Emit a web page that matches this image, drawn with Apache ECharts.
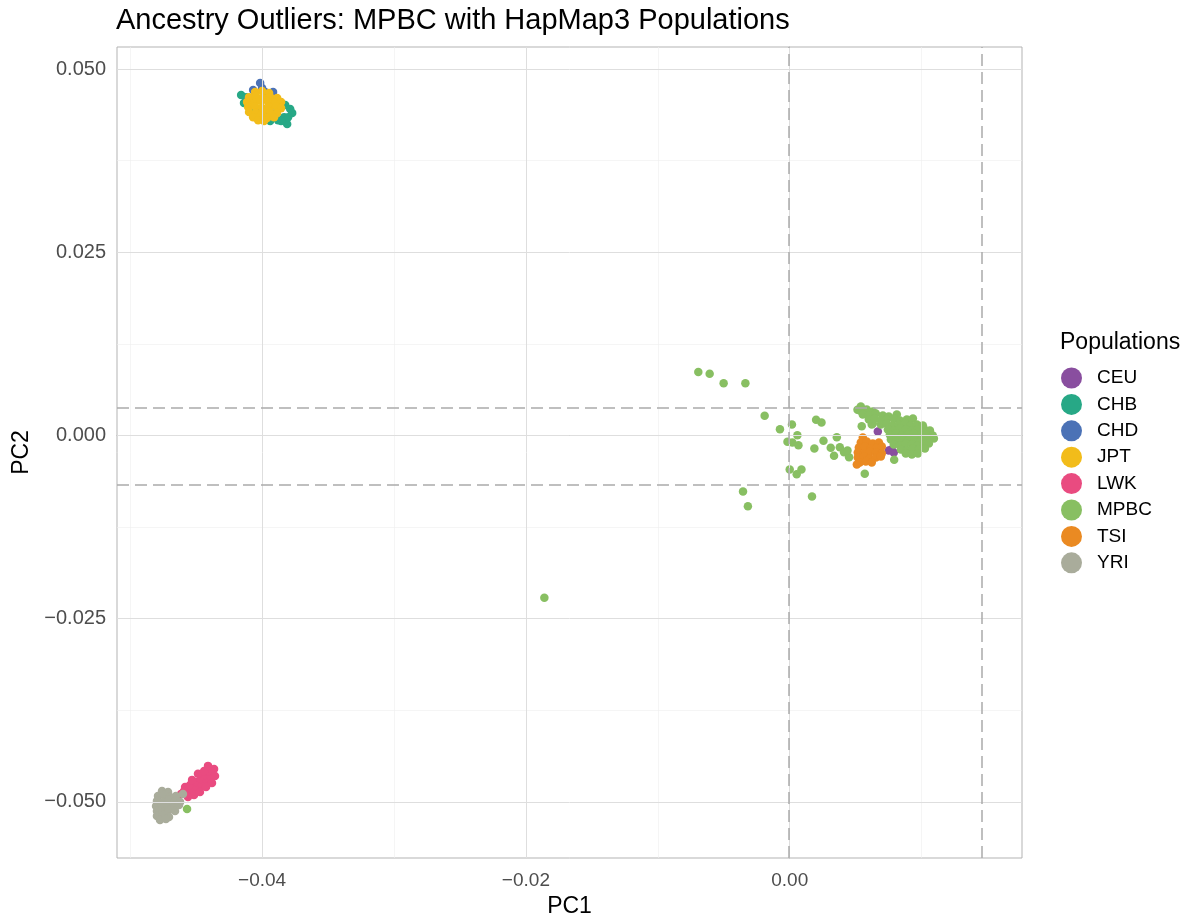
<!DOCTYPE html>
<html>
<head>
<meta charset="utf-8">
<script src="https://cdn.jsdelivr.net/npm/echarts@6/dist/echarts.min.js"></script>
<style>
  html, body { margin: 0; padding: 0; background: #ffffff; }
  #chart { width: 1192px; height: 917px; }
</style>
</head>
<body>
<div id="chart"></div>
<script>
// Population labels and their colours (drawing order = legend order)
const populations = ['CEU', 'CHB', 'CHD', 'JPT', 'LWK', 'MPBC', 'TSI', 'YRI'];
const popColors = ['#894E9F', '#27A886', '#4B72B6', '#F2BC1A', '#E94B80', '#88BF62', '#EA8A22', '#A9AC9B'];

// PC1 / PC2 coordinates per population
const ceu = [
  [0.00668, 0.00055], [0.00751, -0.00205], [0.00789, -0.00232], [0.00805, -0.00068],
  [0.00843, 0.00000], [0.00880, -0.00096], [0.00918, -0.00041], [0.00843, -0.00150],
  [0.00767, -0.00014], [0.00956, 0.00041], [0.00903, 0.00096], [0.00820, 0.00096],
  [0.00865, -0.00191], [0.00934, -0.00137], [0.00994, -0.00068], [0.00772, -0.00190]
];
const chb = [
  [-0.04159, 0.04645], [-0.04121, 0.04617], [-0.03787, 0.04454], [-0.03772, 0.04399],
  [-0.03810, 0.04249], [-0.03833, 0.04344], [-0.03879, 0.04303], [-0.03939, 0.04290],
  [-0.04015, 0.04331], [-0.04091, 0.04413], [-0.04053, 0.04577], [-0.03939, 0.04645],
  [-0.03863, 0.04549], [-0.03825, 0.04508], [-0.04137, 0.04536], [-0.03977, 0.04440],
  [-0.03901, 0.04385], [-0.03803, 0.04344], [-0.03856, 0.04290]
];
const chd = [
  [-0.04015, 0.04809], [-0.04068, 0.04713], [-0.03917, 0.04686], [-0.03886, 0.04481],
  [-0.03977, 0.04686], [-0.04106, 0.04577], [-0.04030, 0.04440], [-0.03939, 0.04413],
  [-0.04000, 0.04740]
];
const jpt = [
  [-0.04053, 0.04686], [-0.04000, 0.04699], [-0.03947, 0.04672],
  [-0.04099, 0.04617], [-0.04046, 0.04631], [-0.03992, 0.04604], [-0.03939, 0.04617], [-0.03886, 0.04604],
  [-0.04114, 0.04549], [-0.04061, 0.04536], [-0.04008, 0.04563], [-0.03954, 0.04549], [-0.03901, 0.04536], [-0.03856, 0.04549],
  [-0.04106, 0.04481], [-0.04053, 0.04494], [-0.04000, 0.04467], [-0.03947, 0.04481], [-0.03894, 0.04494], [-0.03856, 0.04467],
  [-0.04099, 0.04413], [-0.04046, 0.04399], [-0.03992, 0.04426], [-0.03939, 0.04413], [-0.03886, 0.04399],
  [-0.04068, 0.04344], [-0.04015, 0.04358], [-0.03962, 0.04331], [-0.03909, 0.04344],
  [-0.04030, 0.04303], [-0.03985, 0.04290]
];
const lwk = [
  [-0.04615, -0.04891], [-0.04569, -0.04863], [-0.04584, -0.04795], [-0.04531, -0.04836],
  [-0.04546, -0.04768], [-0.04493, -0.04809], [-0.04501, -0.04727], [-0.04455, -0.04768],
  [-0.04463, -0.04686], [-0.04417, -0.04713], [-0.04433, -0.04631], [-0.04387, -0.04658],
  [-0.04402, -0.04577], [-0.04364, -0.04549], [-0.04357, -0.04645], [-0.04380, -0.04740],
  [-0.04516, -0.04904], [-0.04471, -0.04863], [-0.04562, -0.04932], [-0.04425, -0.04795],
  [-0.04486, -0.04617], [-0.04440, -0.04577], [-0.04592, -0.04850], [-0.04531, -0.04699],
  [-0.04410, -0.04508]
];
const mpbc = [
  // outlying samples
  [-0.00693, 0.00865], [-0.00607, 0.00843], [-0.00501, 0.00714], [-0.00336, 0.00714],
  [-0.00190, 0.00269], [-0.00074, 0.00086], [0.00017, 0.00150], [0.00058, 0.00004],
  [-0.00017, -0.00086], [0.00020, -0.00096], [0.00066, -0.00133], [0.00000, -0.00464],
  [0.00053, -0.00529], [0.00089, -0.00464], [-0.00354, -0.00765], [-0.00317, -0.00966],
  [0.00169, -0.00833], [0.00200, 0.00214], [0.00241, 0.00178], [0.00256, -0.00072],
  [0.00357, -0.00023], [0.00187, -0.00178], [0.00311, -0.00168], [0.00380, -0.00160],
  [0.00336, -0.00277], [0.00412, -0.00228], [0.00450, -0.00296], [0.00438, -0.00205],
  [0.00569, -0.00523], [0.00792, -0.00332], [0.00812, 0.00287], [0.00546, 0.00127],
  [0.00622, 0.00150], [0.00514, 0.00351], [0.00539, 0.00396], [-0.01860, -0.02213],
  [-0.04569, -0.05096], [0.00630, 0.00164],
  // main cluster
  [0.00531, 0.00342], [0.00584, 0.00355], [0.00630, 0.00328],
  [0.00554, 0.00287], [0.00600, 0.00273], [0.00653, 0.00301], [0.00706, 0.00273], [0.00751, 0.00260],
  [0.00600, 0.00219], [0.00645, 0.00232], [0.00691, 0.00205], [0.00736, 0.00219],
  [0.00789, 0.00232], [0.00835, 0.00205], [0.00888, 0.00219], [0.00934, 0.00232],
  [0.00691, 0.00150], [0.00736, 0.00164], [0.00782, 0.00137], [0.00827, 0.00150],
  [0.00873, 0.00164], [0.00918, 0.00137], [0.00964, 0.00150], [0.01009, 0.00137],
  [0.00744, 0.00082], [0.00789, 0.00068], [0.00835, 0.00096], [0.00880, 0.00082],
  [0.00926, 0.00068], [0.00972, 0.00082], [0.01017, 0.00096], [0.01063, 0.00068],
  [0.00759, 0.00014], [0.00805, 0.00027], [0.00850, 0.00000], [0.00896, 0.00014],
  [0.00941, 0.00027], [0.00987, 0.00000], [0.01032, 0.00014], [0.01085, 0.00000],
  [0.00767, -0.00055], [0.00812, -0.00041], [0.00858, -0.00068], [0.00903, -0.00055],
  [0.00949, -0.00041], [0.00994, -0.00068], [0.01040, -0.00055], [0.01093, -0.00041],
  [0.00789, -0.00123], [0.00835, -0.00137], [0.00880, -0.00110], [0.00926, -0.00123],
  [0.00972, -0.00137], [0.01017, -0.00123], [0.01055, -0.00110],
  [0.00843, -0.00191], [0.00888, -0.00205], [0.00934, -0.00178], [0.00979, -0.00191], [0.01025, -0.00178],
  [0.00880, -0.00246], [0.00926, -0.00259], [0.00972, -0.00246]
];
const tsi = [
  [0.00554, -0.00027],
  [0.00539, -0.00096], [0.00584, -0.00082], [0.00630, -0.00110], [0.00676, -0.00096],
  [0.00524, -0.00164], [0.00569, -0.00150], [0.00615, -0.00178], [0.00660, -0.00164], [0.00698, -0.00150],
  [0.00516, -0.00232], [0.00562, -0.00246], [0.00607, -0.00219], [0.00653, -0.00232], [0.00698, -0.00246],
  [0.00516, -0.00301], [0.00562, -0.00287], [0.00607, -0.00314], [0.00653, -0.00301], [0.00691, -0.00287],
  [0.00531, -0.00369], [0.00577, -0.00355], [0.00622, -0.00369],
  [0.00509, -0.00396]
];
const yri = [
  [-0.04759, -0.04850], [-0.04713, -0.04863],
  [-0.04789, -0.04918], [-0.04744, -0.04904], [-0.04698, -0.04932], [-0.04653, -0.04918],
  [-0.04797, -0.04986], [-0.04751, -0.05000], [-0.04706, -0.04973], [-0.04660, -0.04986], [-0.04622, -0.05000],
  [-0.04804, -0.05055], [-0.04759, -0.05041], [-0.04713, -0.05068], [-0.04668, -0.05055], [-0.04630, -0.05041],
  [-0.04797, -0.05123], [-0.04751, -0.05137], [-0.04706, -0.05110], [-0.04660, -0.05123],
  [-0.04797, -0.05191], [-0.04751, -0.05178], [-0.04706, -0.05205],
  [-0.04774, -0.05246], [-0.04729, -0.05232],
  [-0.04600, -0.04891]
];
const popData = [ceu, chb, chd, jpt, lwk, mpbc, tsi, yri];

// Axis extents, tick values and labels
const xRange = [-0.0510, 0.01761];
const yRange = [-0.05765, 0.05301];
const xTickValues = [-0.04, -0.02, 0];
const xTickLabels = ['\u22120.04', '\u22120.02', '0.00'];
const yTickValues = [0.05, 0.025, 0, -0.025, -0.05];
const yTickLabels = ['0.050', '0.025', '0.000', '\u22120.025', '\u22120.050'];
const xMinorValues = [-0.05, -0.03, -0.01, 0.01];
const yMinorValues = [0.0375, 0.0125, -0.0125, -0.0375];

// Outlier cut-offs on PC1 and PC2
const pc1Cutoffs = [-0.00005, 0.01456];
const pc2Cutoffs = [0.00383, -0.00669];

const FONT = '"Liberation Sans", Helvetica, Arial, sans-serif';

function labelFor(values, labels) {
  return function (v) {
    for (let i = 0; i < values.length; i++) {
      if (Math.abs(values[i] - v) < 1e-9) return labels[i];
    }
    return '';
  };
}

function gridLines(xs, ys, color, width) {
  return xs.map(v => ({ xAxis: v, lineStyle: { color: color, width: width, type: 'solid' } }))
    .concat(ys.map(v => ({ yAxis: v, lineStyle: { color: color, width: width, type: 'solid' } })));
}

const chart = echarts.init(document.getElementById('chart'), null, { renderer: 'canvas' });

const series = [
  {
    name: 'panel-grid',
    type: 'scatter',
    data: [],
    z: 0,
    silent: true,
    markLine: {
      silent: true,
      precision: 8,
      symbol: ['none', 'none'],
      label: { show: false },
      animation: false,
      data: gridLines(xMinorValues, yMinorValues, '#EFEFEF', 0.6)
        .concat(gridLines(xTickValues, yTickValues, '#DEDEDE', 1))
    }
  }
];

populations.forEach((p, i) => {
  series.push({
    name: p,
    type: 'scatter',
    data: popData[i],
    symbol: 'circle',
    symbolSize: 8.5,
    z: 2,
    itemStyle: { color: popColors[i], opacity: 1 },
    emphasis: { disabled: true }
  });
});

series.push({
  name: 'cutoffs',
  type: 'scatter',
  data: [],
  z: 5,
  silent: true,
  markLine: {
    silent: true,
    precision: 8,
    symbol: ['none', 'none'],
    label: { show: false },
    animation: false,
    lineStyle: { color: '#ABABAB', width: 1.5, type: [12, 6] },
    data: pc1Cutoffs.map(v => ({ xAxis: v })).concat(pc2Cutoffs.map(v => ({ yAxis: v })))
  }
});

chart.setOption({
  animation: false,
  backgroundColor: '#ffffff',
  textStyle: { fontFamily: FONT },
  title: [
    {
      text: 'Ancestry Outliers: MPBC with HapMap3 Populations',
      left: 116, top: 6, padding: 0,
      textStyle: { fontFamily: FONT, fontSize: 29, fontWeight: 'normal', color: '#000000' }
    },
    {
      text: 'Populations',
      left: 1060, top: 331, padding: 0,
      textStyle: { fontFamily: FONT, fontSize: 23, fontWeight: 'normal', color: '#000000' }
    }
  ],
  legend: {
    data: populations,
    orient: 'vertical',
    left: 1061, top: 367.5,
    padding: 0,
    itemWidth: 21, itemHeight: 21, itemGap: 5.4,
    icon: 'circle',
    selectedMode: false,
    textStyle: { fontFamily: FONT, fontSize: 19, color: '#000000', padding: [0, 0, 0, 10] }
  },
  grid: {
    left: 117, right: 170, top: 47, bottom: 59,
    outerBoundsMode: 'none',
    containLabel: false,
    show: true, borderColor: '#B3B3B3', borderWidth: 1, backgroundColor: 'transparent'
  },
  xAxis: {
    type: 'value',
    min: xRange[0], max: xRange[1],
    name: 'PC1', nameLocation: 'middle', nameGap: 31,
    nameTextStyle: { fontFamily: FONT, fontSize: 23, color: '#000000' },
    axisLine: { show: true, lineStyle: { color: '#B3B3B3', width: 1 } },
    axisTick: { show: true, length: 5, customValues: xTickValues, lineStyle: { color: '#B3B3B3', width: 1 } },
    axisLabel: {
      customValues: xTickValues, margin: 13,
      fontFamily: FONT, fontSize: 19, color: '#4D4D4D',
      formatter: labelFor(xTickValues, xTickLabels)
    },
    splitLine: { show: false }
  },
  yAxis: {
    type: 'value',
    min: yRange[0], max: yRange[1],
    name: 'PC2', nameLocation: 'middle', nameGap: 81,
    nameTextStyle: { fontFamily: FONT, fontSize: 23, color: '#000000' },
    axisLine: { show: true, lineStyle: { color: '#B3B3B3', width: 1 } },
    axisTick: { show: true, length: 5, customValues: yTickValues, lineStyle: { color: '#B3B3B3', width: 1 } },
    axisLabel: {
      customValues: yTickValues, margin: 11,
      fontFamily: FONT, fontSize: 20, color: '#4D4D4D',
      formatter: labelFor(yTickValues, yTickLabels)
    },
    splitLine: { show: false }
  },
  series: series
});
</script>
</body>
</html>
